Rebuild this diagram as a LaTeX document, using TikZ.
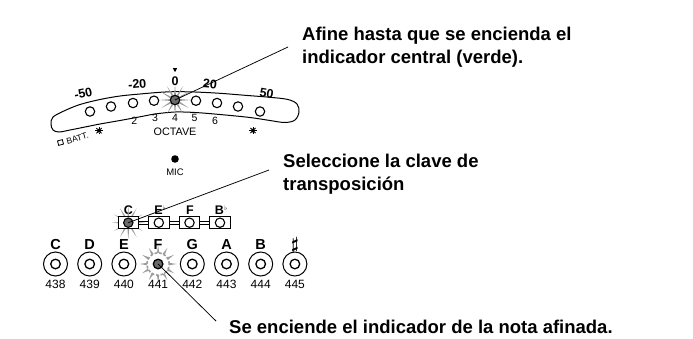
\documentclass[tikz,border=0pt]{standalone}
\usepackage{fontspec}
\setmainfont{Liberation Sans}
\newfontfamily\symfnt{DejaVu Sans}
\definecolor{ledgray}{HTML}{6A6A6A}
\definecolor{burstgray}{HTML}{9C9C9C}
\tikzset{
  led/.style={circle, draw=black, line width=1.1pt, fill=white, minimum size=9.4pt, inner sep=0pt},
  litled/.style={led, fill=ledgray},
  notering/.style={circle, draw=black, line width=1pt, fill=white, minimum size=24pt, inner sep=0pt},
  keybox/.style={draw=black, line width=1pt, fill=white, minimum width=20.5pt, minimum height=12pt, inner sep=0pt},
  leader/.style={draw=black, line width=0.75pt},
  callout/.style={anchor=base west, font=\fontsize{18.5}{23}\selectfont\bfseries, inner sep=0pt},
  scalelbl/.style={font=\fontsize{12.5}{12.5}\selectfont\bfseries, inner sep=0pt},
  smalllbl/.style={font=\fontsize{10.5}{10.5}\selectfont, inner sep=0pt},
  notelbl/.style={anchor=base, font=\fontsize{14.5}{14.5}\selectfont\bfseries, inner sep=0pt},
  keylbl/.style={anchor=base, font=\fontsize{12.5}{12.5}\selectfont\bfseries, inner sep=0pt},
  freqlbl/.style={anchor=base, font=\fontsize{12}{12}\selectfont, inner sep=0pt},
  ray/.style={fill=burstgray},
}
\newcommand\sunicon[2]{%
  \begin{scope}[shift={(#1,#2)}]
    \fill (0,0) circle (2);
    \foreach \a in {0,45,...,315} \draw[line width=0.9pt] (\a:1.8) -- (\a:3.7);
  \end{scope}}
\newcommand\boldsharp{\mbox{\boldmath$\sharp$}}
\begin{document}
\begin{tikzpicture}[x=1pt,y=-1pt]
\useasboundingbox (0,0) rectangle (693,338);

% ---------- meter band ----------
\draw[line width=1pt] plot[smooth cycle, tension=0.55] coordinates {
 (53,117) (65,110.5) (80,104.5) (100,99.5) (120,96) (140,94) (160,92.3) (175,91.7)
 (195,92) (220,93.3) (245,95.3) (270,97.3) (288,99.5) (297,104) (299,112) (295,120)
 (285,122.5) (270,120.5) (250,117.5) (220,114.5) (195,112.5) (175,112) (155,114)
 (140,116.8) (120,120.5) (100,124) (85,127) (70,130) (59,132) (53,130) (51,124)};

% burst of the lit meter LED
\begin{scope}[shift={(175,100)}]
  \foreach \a in {0,30,...,330} \fill[ray] (\a-11:4.8) -- (\a:16) -- (\a+11:4.8) -- cycle;
\end{scope}

% meter LEDs
\foreach \i/\x/\y in {1/90/111.5, 2/111/106.5, 3/133/103, 4/154/100.7, 6/196/100.7, 7/217/103, 8/238/106.5, 9/260/111.5}
  \node[led] (m\i) at (\x,\y) {};
\node[litled] (m5) at (175,100) {};

% scale labels
\node[scalelbl, rotate=12] (s1) at (83.3,93.3) {-50};
\node[scalelbl, rotate=5] (s2) at (137.3,84) {-20};
\node[scalelbl] (s3) at (175,80.7) {0};
\node[scalelbl, rotate=-5] (s4) at (210,84) {20};
\node[scalelbl, rotate=-10] (s5) at (266.7,93.3) {50};
\fill (172.8,68) -- (177.2,68) -- (175,72.2) -- cycle;

% octave numbers
\node[smalllbl] (o2) at (134.3,120.5) {2};
\node[smalllbl] (o3) at (155,118) {3};
\node[smalllbl] (o4) at (175,118) {4};
\node[smalllbl] (o5) at (194.5,118) {5};
\node[smalllbl] (o6) at (215,120.5) {6};
\node[font=\fontsize{10.8}{10.8}\selectfont, inner sep=0pt] (oct) at (175,132) {OCTAVE};

% battery indicator
\draw[line width=0.8pt, rotate around={15:(60.5,142.5)}] (58,140.2) rectangle (63,144.8);
\node[font=\fontsize{8.5}{8.5}\selectfont, inner sep=0pt, rotate=15] (batt) at (77.5,138.3) {BATT.};
\sunicon{99}{130.7}
\sunicon{253}{130.5}

% MIC
\fill (175,159) circle (3.8);
\node[font=\fontsize{9.5}{9.5}\selectfont, inner sep=0pt, anchor=base] (mic) at (175,175) {MIC};

% ---------- transposition keys ----------
\node[keylbl] (lc) at (128.3,214) {C};
\node[keylbl] (le) at (158.5,214) {E\rlap{\raisebox{4pt}{\symfnt\fontsize{6.5}{6.5}\selectfont ♭}}};
\node[keylbl] (lf) at (190,214) {F};
\node[keylbl] (lb) at (219.5,214) {B\rlap{\raisebox{4pt}{\symfnt\fontsize{6.5}{6.5}\selectfont ♭}}};
\begin{scope}[shift={(128.3,222.7)}]
  \foreach \a in {0,30,...,330} \fill[ray] (\a-11:5) -- (\a:16.5) -- (\a+11:5) -- cycle;
\end{scope}
\node[keybox] (kc) at (128.3,222.7) {};
\node[keybox] (ke) at (158.8,222.7) {};
\node[keybox] (kf) at (189.5,222.7) {};
\node[keybox] (kb) at (220,222.7) {};
\foreach \p/\q in {kc/ke, ke/kf, kf/kb} {
  \draw[line width=0.8pt] ([yshift=1.7pt]\p.east) -- ([yshift=1.7pt]\q.west);
  \draw[line width=0.8pt] ([yshift=-1.7pt]\p.east) -- ([yshift=-1.7pt]\q.west);
}
\node[litled] (kcl) at (kc.center) {};
\node[led] (kel) at (ke.center) {};
\node[led] (kfl) at (kf.center) {};
\node[led] (kbl) at (kb.center) {};

% ---------- note row ----------
\foreach \n/\t/\x/\f in {nc/C/55.5/438, nd/D/89.7/439, ne/E/123.9/440, ng/G/192.3/442, na/A/226.5/443, nb/B/260.7/444} {
  \node[notelbl] (\n l) at (\x,249.5) {\t};
  \node[notering] (\n) at (\x,264) {};
  \node[led, line width=1.3pt, minimum size=9.6pt] (\n i) at (\x,264) {};
  \node[freqlbl] (\n f) at (\x,288.5) {\f};
}
\node[anchor=base, inner sep=0pt, font=\fontsize{16}{16}\selectfont] (nshl) at (294.9,249.5) {\boldsharp};
\node[notering] (nsh) at (294.9,264) {};
\node[led, line width=1.3pt, minimum size=9.6pt] (nshi) at (294.9,264) {};
\node[freqlbl] (nshf) at (294.9,288.5) {445};

% lit F
\node[notelbl] (nfl) at (158.1,249.5) {F};
\begin{scope}[shift={(158.1,264)}]
  \foreach \a in {0,30,...,330} \fill[ray] (\a-8:10) -- (\a:18.5) -- (\a+8:10) -- cycle;
\end{scope}
\node[circle, draw=burstgray, dash pattern=on 2.8pt off 1.8pt, line width=1.6pt, fill=white, minimum size=22.5pt, inner sep=0pt] (nf) at (158.1,264) {};
\node[litled, line width=1.3pt, minimum size=9.6pt] (nfi) at (158.1,264) {};
\node[freqlbl] (nff) at (158.1,288.5) {441};

% ---------- callouts ----------
\node[callout] (t1a) at (302,40) {Afine hasta que se encienda el};
\node[callout] (t1b) at (302,63) {indicador central (verde).};
\node[callout] (t2a) at (283,167) {Seleccione la clave de};
\node[callout] (t2b) at (283,190) {transposición};
\node[callout] (t3) at (229,333) {Se enciende el indicador de la nota afinada.};

\coordinate (e1) at (288,47);
\coordinate (e2) at (269,170);
\coordinate (e3) at (216,321);
\draw[leader] (m5.center) -- (e1);
\draw[leader] (kcl.center) -- (e2);
\draw[leader] (nfi.center) -- (e3);
\end{tikzpicture}
\end{document}
